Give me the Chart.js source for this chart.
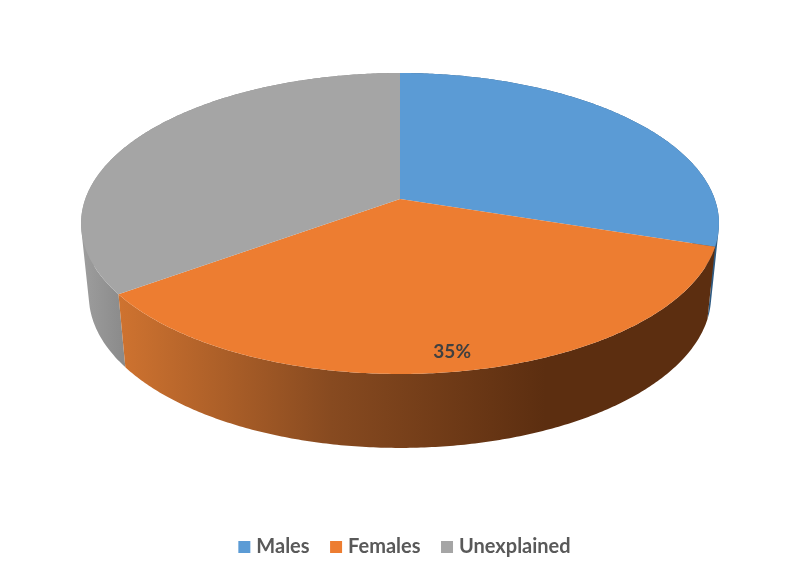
<!DOCTYPE html>
<html>
<head>
<meta charset="utf-8">
<style>html,body{margin:0;padding:0;background:#fff}canvas{display:block}</style>
<script src="https://cdn.jsdelivr.net/npm/chart.js@4"></script>
</head>
<body>
<canvas id="c" width="800" height="577"></canvas>
<script>
const categories = ['Males', 'Females', 'Unexplained'];
const shares = [30, 35, 35];
const sliceColors = ['#5B9BD5', '#ED7D31', '#A5A5A5'];
const shownLabels = [false, true, false];

// perspective of the tilted disc: unit circle (u,v) -> screen
const topFace = {cx: 400, A: 314.7, a: 114.1, b: 199, c: -0.1628};
const lowFace = {cx: 400, A: 307, a: 104, b: 271, c: -0.1628};
const project = (f, u, v) => {
  const w = 1 + f.c * v;
  return [f.cx + f.A * u / w, (f.a * v + f.b) / w];
};

const pie3d = {
  id: 'pie3d',
  beforeDatasetDraw(chart, args) {
    const ctx = chart.ctx;
    const meta = args.meta;
    const arcPts = (f, s, e) => {
      const n = Math.max(8, Math.ceil((e - s) / 0.01));
      const out = [];
      for (let i = 0; i <= n; i++) {
        const t = s + (e - s) * i / n;
        out.push(project(f, Math.cos(t), Math.sin(t)));
      }
      return out;
    };
    const addPoly = pts => {
      pts.forEach((p, i) => i ? ctx.lineTo(p[0], p[1]) : ctx.moveTo(p[0], p[1]));
      ctx.closePath();
    };
    const area = pts => pts.reduce((s, p, i) => {
      const q = pts[(i + 1) % pts.length];
      return s + p[0] * q[1] - q[0] * p[1];
    }, 0);
    const lin = (x0, x1, stops) => {
      const g = ctx.createLinearGradient(x0, 0, x1, 0);
      stops.forEach(s => g.addColorStop(s[0], s[1]));
      return g;
    };
    const wallStyles = [
      '#2E5A82',
      lin(118, 545, [[0, '#CF7330'], [0.5, '#874A20'], [1, '#5C2E10']]),
      lin(85, 125, [[0, '#9C9C9C'], [1, '#8A8A8A']])
    ];
    ctx.save();
    // side wall: union of quads between the rim of the top face and the rim of the lower face
    [0, 2, 1].forEach(i => {
      const el = meta.data[i];
      const up = arcPts(topFace, el.startAngle, el.endAngle);
      const lo = arcPts(lowFace, el.startAngle, el.endAngle);
      ctx.beginPath();
      for (let k = 0; k < up.length - 1; k++) {
        const quad = [up[k], up[k + 1], lo[k + 1], lo[k]];
        addPoly(area(quad) < 0 ? quad.reverse() : quad);
      }
      ctx.fillStyle = wallStyles[i];
      ctx.fill('nonzero');
    });
    meta.data.forEach(el => {
      const pts = arcPts(topFace, el.startAngle, el.endAngle);
      pts.push(project(topFace, 0, 0));
      ctx.beginPath();
      addPoly(pts);
      ctx.fillStyle = el.options.backgroundColor;
      ctx.fill();
    });
    meta.data.forEach((el, i) => {
      if (!shownLabels[i]) return;
      const mid = (el.startAngle + el.endAngle) / 2;
      const p = project(topFace, 0.905 * Math.cos(mid), 0.905 * Math.sin(mid));
      ctx.font = 'bold 19px Lato';
      ctx.fillStyle = '#404040';
      ctx.textAlign = 'center';
      ctx.textBaseline = 'middle';
      ctx.fillText(shares[i] + '%', p[0], p[1]);
    });
    ctx.restore();
    return false;
  }
};

new Chart(document.getElementById('c'), {
  type: 'pie',
  data: {
    labels: categories,
    datasets: [{data: shares, backgroundColor: sliceColors, borderWidth: 0}]
  },
  options: {
    responsive: false,
    animation: false,
    events: [],
    layout: {padding: {bottom: 10, left: 13}},
    plugins: {
      tooltip: {enabled: false},
      legend: {
        position: 'bottom',
        labels: {
          boxWidth: 4, boxHeight: 4, padding: 24.5,
          color: '#595959',
          font: {family: 'Lato', size: 20, weight: 'bold'},
          generateLabels(chart) {
            return Chart.overrides.pie.plugins.legend.labels.generateLabels(chart).map(item => {
              item.strokeStyle = item.fillStyle;
              item.lineWidth = 8;
              return item;
            });
          }
        }
      }
    }
  },
  plugins: [pie3d]
});
</script>
</body>
</html>
